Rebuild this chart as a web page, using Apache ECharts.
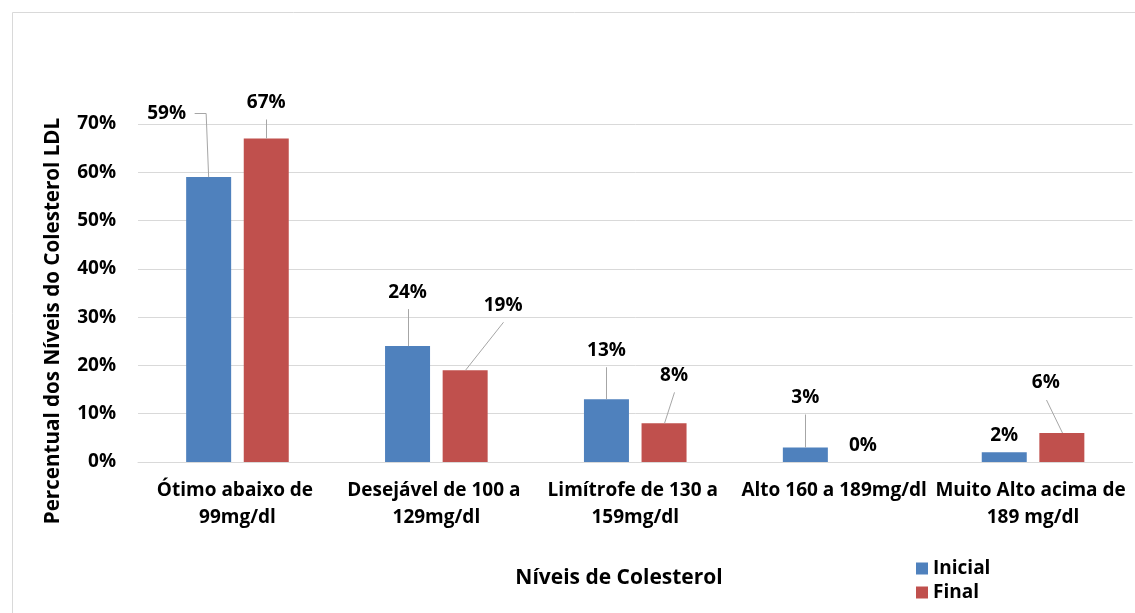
<!DOCTYPE html>
<html>
<head>
<meta charset="utf-8">
<script src="https://cdn.jsdelivr.net/npm/echarts@6/dist/echarts.min.js"></script>
<style>
  html, body { margin: 0; padding: 0; background: #ffffff; }
  #chart { width: 1135px; height: 613px; }
</style>
</head>
<body>
<div id="chart"></div>
<script>
// Níveis de colesterol LDL: percentual inicial e final por faixa
const categories = [
  'Ótimo abaixo de 99mg/dl',
  'Desejável de 100 a 129mg/dl',
  'Limítrofe de 130 a 159mg/dl',
  'Alto 160 a 189mg/dl',
  'Muito Alto acima de 189 mg/dl'
];
const inicial = [59, 24, 13, 3, 2];
const final = [67, 19, 8, 0, 6];
const seriesNames = ['Inicial', 'Final'];
const yAxisTitle = 'Percentual dos Níveis do Colesterol LDL';
const xAxisTitle = 'Níveis de Colesterol';

// Label placement relative to the top centre of each bar: [dx, dy] in px
const inicialLabelOffset = [[-42, -64], [0, -54], [0, -49], [0, -50], [0, -17]];
const finalLabelOffset = [[0, -36], [38, -65], [10, -48], [0, -16], [-16, -50]];
// Leader line kind for each label: 'down', 'side' (elbow) or 'none'
const inicialLeader = ['side', 'down', 'down', 'down', 'none'];
const finalLeader = ['down', 'down', 'down', 'none', 'down'];

const FONT = '"Open Sans", "Noto Sans", sans-serif';
const FONT_SIZE = 19;
const BLUE = '#4F81BD';
const RED = '#C0504D';
const BAR_W = 45;
const BAR_GAP = 0.28;
const BAR_SHIFT = (BAR_W + BAR_W * BAR_GAP) / 2;

const pct = v => Math.round(v) + '%';
const crisp = v => Math.round(v) + 0.5;

function labelLayer(name, values, offsets, leaders, side) {
  return {
    type: 'custom',
    name: name,
    coordinateSystem: 'cartesian2d',
    silent: true,
    z: 5,
    data: values.map((v, i) => [i, v]),
    renderItem: function (params, api) {
      const i = params.dataIndex;
      const v = api.value(1);
      const c = api.coord([api.value(0), v]);
      const tx = c[0] + side * BAR_SHIFT;
      const ty = c[1];
      const lx = tx + offsets[i][0];
      const ly = ty + offsets[i][1];
      const children = [{
        type: 'text',
        x: lx, y: ly,
        style: {
          text: pct(v), x: 0, y: 0,
          align: 'center', verticalAlign: 'middle',
          font: 'bold ' + FONT_SIZE + 'px ' + FONT,
          fill: '#000000'
        }
      }];
      const lineStyle = { stroke: '#a6a6a6', lineWidth: 1, fill: null };
      if (leaders[i] === 'down') {
        children.push({
          type: 'polyline',
          shape: { points: [[crisp(lx), ly + 17], [crisp(tx), ty]] },
          style: lineStyle
        });
      } else if (leaders[i] === 'side') {
        const dir = offsets[i][0] < 0 ? 1 : -1;
        children.push({
          type: 'polyline',
          shape: { points: [[lx + dir * 28, crisp(ly)], [tx - dir * 2.5, crisp(ly)], [tx, ty]] },
          style: lineStyle
        });
      }
      return { type: 'group', children: children };
    }
  };
}

const chart = echarts.init(document.getElementById('chart'), null, { renderer: 'canvas' });

chart.setOption({
  animation: false,
  backgroundColor: '#ffffff',
  textStyle: { fontFamily: FONT },
  grid: { left: 138, right: -8, top: 124, bottom: 151, containLabel: false },
  legend: {
    data: seriesNames,
    orient: 'vertical',
    left: 916,
    top: 559,
    padding: 0,
    itemWidth: 12,
    itemHeight: 12,
    itemGap: 5,
    icon: 'rect',
    selectedMode: false,
    textStyle: { fontFamily: FONT, fontSize: FONT_SIZE, fontWeight: 'bold', color: '#000000' }
  },
  xAxis: {
    type: 'category',
    data: categories,
    axisTick: { show: false },
    axisLine: { lineStyle: { color: '#d9d9d9', width: 1 } },
    axisLabel: {
      interval: 0,
      margin: 15,
      width: 200,
      overflow: 'break',
      lineHeight: 27,
      fontFamily: FONT,
      fontSize: FONT_SIZE,
      fontWeight: 'bold',
      color: '#000000'
    }
  },
  yAxis: {
    type: 'value',
    min: 0,
    max: 70,
    interval: 10,
    axisLine: { show: false },
    axisTick: { show: false },
    splitLine: { lineStyle: { color: '#d9d9d9', width: 1 } },
    axisLabel: {
      formatter: '{value}%',
      margin: 22,
      fontFamily: FONT,
      fontSize: FONT_SIZE,
      fontWeight: 'bold',
      color: '#000000'
    }
  },
  graphic: [
    {
      type: 'rect',
      shape: { x: 12.5, y: 12.5, width: 1300, height: 800 },
      style: { fill: null, stroke: '#d9d9d9', lineWidth: 1 },
      silent: true
    },
    {
      type: 'text',
      x: 53, y: 321,
      rotation: Math.PI / 2,
      style: {
        text: yAxisTitle, align: 'center', verticalAlign: 'middle',
        font: 'bold 20.6px ' + FONT, fill: '#000000'
      }
    },
    {
      type: 'text',
      x: 619, y: 578,
      style: {
        text: xAxisTitle, align: 'center', verticalAlign: 'middle',
        font: 'bold 21px ' + FONT, fill: '#000000'
      }
    }
  ],
  series: [
    {
      type: 'bar', name: seriesNames[0], data: inicial,
      barWidth: BAR_W, barGap: (BAR_GAP * 100) + '%',
      itemStyle: { color: BLUE }
    },
    {
      type: 'bar', name: seriesNames[1], data: final,
      barWidth: BAR_W, barGap: (BAR_GAP * 100) + '%',
      itemStyle: { color: RED }
    },
    labelLayer(seriesNames[0], inicial, inicialLabelOffset, inicialLeader, -1),
    labelLayer(seriesNames[1], final, finalLabelOffset, finalLeader, 1)
  ]
});
</script>
</body>
</html>
